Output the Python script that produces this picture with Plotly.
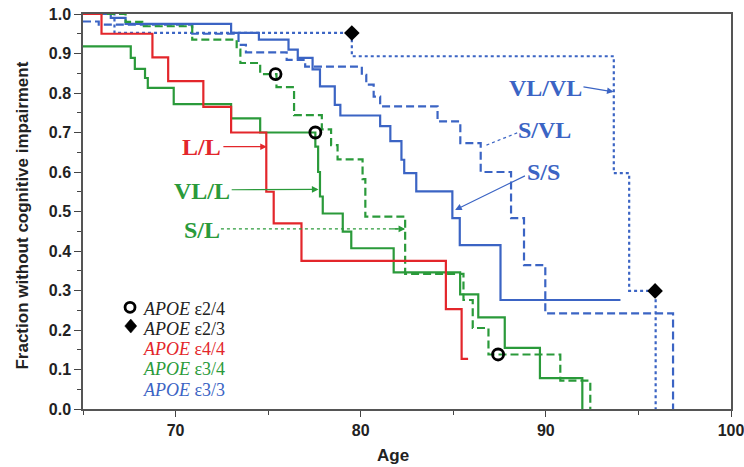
import plotly.graph_objects as go

# ---------------- data ----------------
ll_age = [65, 66.0, 68.75, 69.6, 71.5, 73.0, 74.9, 75.3, 76.8, 84.6, 85.45, 85.8]
ll_surv = [1.0, 0.95, 0.89, 0.83, 0.765, 0.70, 0.55, 0.47, 0.375, 0.253, 0.127, 0.127]

vll_age = [65, 67.58, 67.8, 68.35, 68.5, 69.9, 73.0, 74.57, 77.55, 77.7, 77.8, 77.95,
           79.03, 79.49, 81.78, 85.37, 86.35, 87.78, 89.68, 91.97]
vll_surv = [0.918, 0.889, 0.861, 0.838, 0.813, 0.772, 0.736, 0.700, 0.664, 0.60, 0.538, 0.495,
            0.449, 0.407, 0.346, 0.290, 0.232, 0.155, 0.078, 0.0]

sl_age = [65, 67.3, 68.2, 70.9, 73.3, 73.5, 74.57, 75.45, 76.4, 77.9, 78.4, 78.75,
          80.1, 80.25, 82.4, 85.55, 86.05, 86.9, 90.78, 92.4]
sl_surv = [1.0, 0.98, 0.969, 0.935, 0.91, 0.876, 0.848, 0.815, 0.744, 0.708, 0.668, 0.632,
           0.582, 0.487, 0.342, 0.276, 0.205, 0.138, 0.072, 0.0]

ss_age = [65, 66.5, 67.3, 73.0, 74.5, 76.1, 76.6, 77.4, 77.8, 78.6, 78.9, 81.05, 81.6,
          82.2, 82.35, 83.0, 84.95, 85.35, 87.55, 94.03]
ss_surv = [1.0, 0.99, 0.975, 0.952, 0.935, 0.91, 0.889, 0.86, 0.817, 0.770, 0.743, 0.716,
           0.678, 0.631, 0.597, 0.551, 0.483, 0.415, 0.276, 0.276]

svl_age = [65, 65.85, 70.9, 73.4, 73.8, 76.0, 77.0, 80.06, 80.3, 80.7, 81.05, 84.15,
           85.38, 86.48, 88.12, 88.82, 89.97, 96.87]
svl_surv = [0.981, 0.973, 0.95, 0.922, 0.903, 0.884, 0.867, 0.846, 0.821, 0.791, 0.766, 0.728,
            0.673, 0.600, 0.483, 0.364, 0.242, 0.0]

vlvl_age = [65, 66.7, 79.52, 93.67, 94.5, 95.93]
vlvl_surv = [1.0, 0.952, 0.893, 0.597, 0.299, 0.0]

e24_age = [75.4, 77.55, 87.42]
e24_surv = [0.848, 0.700, 0.138]
e23_age = [79.52, 95.9]
e23_surv = [0.952, 0.299]

legend_labels = ["APOE ε2/4", "APOE ε2/3", "APOE ε4/4", "APOE ε3/4", "APOE ε3/3"]
curve_labels = ["L/L", "VL/L", "S/L", "VL/VL", "S/VL", "S/S"]

x_ticks = [70, 80, 90, 100]
y_ticks = [0.0, 0.1, 0.2, 0.3, 0.4, 0.5, 0.6, 0.7, 0.8, 0.9, 1.0]

# ---------------- styles ----------------
RED = "#e3262b"
GREEN = "#2a9a3a"
BLUE = "#3b64c4"
SERIF = "Liberation Serif"
SANS = "Liberation Sans"
DASH = "8px,4px"

fig = go.Figure()

def step(x, y, color, dash):
    fig.add_trace(go.Scatter(x=x, y=y, mode="lines", line=dict(shape="hv", color=color,
                                                                 width=2.2, dash=dash),
                             showlegend=False, hoverinfo="skip"))

step(vlvl_age, vlvl_surv, BLUE, "dot")
step(svl_age, svl_surv, BLUE, DASH)
step(ss_age, ss_surv, BLUE, "solid")
step(sl_age, sl_surv, GREEN, DASH)
step(vll_age, vll_surv, GREEN, "solid")
step(ll_age, ll_surv, RED, "solid")

fig.add_trace(go.Scatter(x=e24_age, y=e24_surv, mode="markers",
                         marker=dict(symbol="circle-open", size=11, color="black",
                                     line=dict(width=2.8, color="black")),
                         showlegend=False, hoverinfo="skip", cliponaxis=False))
fig.add_trace(go.Scatter(x=e23_age, y=e23_surv, mode="markers",
                         marker=dict(symbol="diamond", size=12, color="black"),
                         showlegend=False, hoverinfo="skip", cliponaxis=False))

annotations = []
shapes = []

# curve labels with arrows: (text, color, label x,y, tail x,y, head x,y, dotted)
label_specs = [
    (curve_labels[0], RED, 71.42, 0.664, 72.5, 0.664, 74.93, 0.664, False),
    (curve_labels[1], GREEN, 71.42, 0.553, 72.95, 0.555, 77.72, 0.556, False),
    (curve_labels[2], GREEN, 71.42, 0.452, 72.45, 0.456, 82.4, 0.456, True),
    (curve_labels[3], BLUE, 89.97, 0.812, 91.95, 0.816, 93.66, 0.803, False),
    (curve_labels[4], BLUE, 89.94, 0.706, 88.45, 0.699, 86.73, 0.667, True),
    (curve_labels[5], BLUE, 89.88, 0.599, 88.95, 0.592, 85.1, 0.504, False),
]
for text, col, lx, ly, tx, ty, hx, hy, dotted in label_specs:
    annotations.append(dict(x=lx, y=ly, xref="x", yref="y", text="<b>%s</b>" % text,
                            showarrow=False, xanchor="center", yanchor="middle",
                            font=dict(family=SERIF, size=24, color=col)))
    if dotted:
        shapes.append(dict(type="line", xref="x", yref="y", x0=tx, y0=ty, x1=hx, y1=hy,
                           line=dict(color=col, width=1.2, dash="dot")))
        fx = hx - (hx - tx) * 0.08
        fy = hy - (hy - ty) * 0.08
        annotations.append(dict(x=hx, y=hy, ax=fx, ay=fy, xref="x", yref="y",
                                axref="x", ayref="y", text="", showarrow=True,
                                arrowhead=2, arrowsize=1.1, arrowwidth=1.2, arrowcolor=col))
    else:
        annotations.append(dict(x=hx, y=hy, ax=tx, ay=ty, xref="x", yref="y",
                                axref="x", ayref="y", text="", showarrow=True,
                                arrowhead=2, arrowsize=1.1, arrowwidth=1.2, arrowcolor=col))

# legend block
leg_colors = ["#222222", "#222222", RED, GREEN, BLUE]
leg_y = [0.253, 0.2025, 0.152, 0.1005, 0.049]
for lab, col, yy in zip(legend_labels, leg_colors, leg_y):
    apoe, rest = lab.split(" ", 1)
    annotations.append(dict(x=68.12, y=yy, xref="x", yref="y",
                            text="<i>%s</i> %s" % (apoe, rest), showarrow=False,
                            xanchor="left", yanchor="middle",
                            font=dict(family=SERIF, size=18, color=col)))
shapes.append(dict(type="circle", xref="x", yref="y", xsizemode="pixel", ysizemode="pixel",
                   xanchor=67.54, yanchor=0.2575, x0=-5, x1=5, y0=-5, y1=5,
                   line=dict(color="black", width=2.8)))
shapes.append(dict(type="path", xref="x", yref="y", xsizemode="pixel", ysizemode="pixel",
                   xanchor=67.58, yanchor=0.21, path="M 0 7 L 6 0 L 0 -7 L -6 0 Z",
                   fillcolor="black", line=dict(color="black", width=0.5)))

# axis titles
annotations.append(dict(x=0.478, y=-0.117, xref="paper", yref="paper", text="<b>Age</b>",
                        showarrow=False, xanchor="center", yanchor="middle",
                        font=dict(family=SANS, size=17, color="#222")))
annotations.append(dict(x=-0.094, y=0.49, xref="paper", yref="paper",
                        text="<b>Fraction without cognitive impairment</b>", textangle=-90,
                        showarrow=False, xanchor="center", yanchor="middle",
                        font=dict(family=SANS, size=17, color="#222")))

fig.update_layout(
    width=744, height=467,
    margin=dict(l=83, r=13, t=14, b=58, autoexpand=False),
    paper_bgcolor="white", plot_bgcolor="white",
    showlegend=False,
    annotations=annotations, shapes=shapes,
    xaxis=dict(range=[65, 100], tickvals=x_ticks, ticks="outside", ticklen=6, tickwidth=1.3,
               tickcolor="#444", showline=True, linecolor="#555", linewidth=1.5, mirror=True,
               showgrid=False, zeroline=False, automargin=False, ticklabeloverflow="allow",
               minor=dict(dtick=5, ticks="outside", ticklen=4, tickcolor="#444", showgrid=False),
               tickfont=dict(family=SANS, size=16, color="#222", weight="bold")),
    yaxis=dict(range=[0, 1], tickvals=y_ticks, tickformat=".1f", ticks="outside", ticklen=7,
               tickwidth=1.3, tickcolor="#444", showline=True, linecolor="#555", linewidth=1.5,
               mirror=True, showgrid=False, zeroline=False, automargin=False,
               ticklabeloverflow="allow",
               minor=dict(dtick=0.05, ticks="outside", ticklen=4, tickcolor="#444", showgrid=False),
               tickfont=dict(family=SANS, size=16, color="#222", weight="bold")),
)

fig.write_html("out.html", config={"displayModeBar": False},
               post_script="document.body.style.margin='0';document.body.style.overflow='hidden';")
